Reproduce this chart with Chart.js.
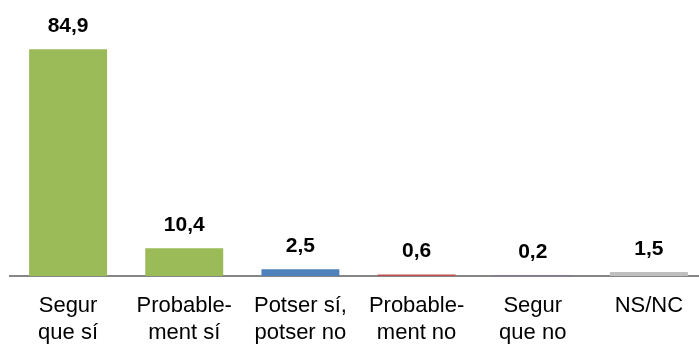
<!DOCTYPE html>
<html>
<head>
<meta charset="utf-8">
<script src="https://cdn.jsdelivr.net/npm/chart.js@4"></script>
<style>
html,body{margin:0;padding:0;background:#fff;overflow:hidden;width:699px;height:345px;}
#wrap{position:absolute;left:0;top:0;width:708px;height:345px;}
</style>
</head>
<body>
<div id="wrap"><canvas id="c" width="708" height="345"></canvas></div>
<script>
const categories = [["Segur","que sí"],["Probable-","ment sí"],["Potser sí,","potser no"],["Probable-","ment no"],["Segur","que no"],["NS/NC"]];
const values = [84.9, 10.4, 2.5, 0.6, 0.2, 1.5];
const valueLabels = ["84,9","10,4","2,5","0,6","0,2","1,5"];
const barColors = ["#9BBB59","#9BBB59","#4F81BD","#C0504D","#8064A2","#BFBFBF"];

const labelPlugin = {
  id: 'valueLabels',
  afterDatasetsDraw(chart) {
    const ctx = chart.ctx;
    const meta = chart.getDatasetMeta(0);
    ctx.save();
    ctx.font = 'bold 21px "Liberation Sans", Arial, sans-serif';
    ctx.fillStyle = '#000';
    ctx.textAlign = 'center';
    ctx.textBaseline = 'alphabetic';
    meta.data.forEach((bar, i) => {
      ctx.fillText(valueLabels[i], bar.x, bar.y - 17);
    });
    ctx.restore();
  }
};

new Chart(document.getElementById('c'), {
  type: 'bar',
  data: {
    labels: categories,
    datasets: [{
      data: values,
      backgroundColor: barColors,
      borderWidth: 0,
      categoryPercentage: 1,
      barPercentage: 0.671
    }]
  },
  options: {
    responsive: false,
    animation: false,
    layout: { padding: { left: 10, right: 1, top: 9, bottom: 0 } },
    plugins: { legend: { display: false }, tooltip: { enabled: false } },
    scales: {
      x: {
        z: 1,
        grid: { display: false, drawTicks: false },
        border: { display: true, color: '#868686', width: 2 },
        ticks: {
          color: '#000',
          padding: 17,
          maxRotation: 0,
          autoSkip: false,
          font: { family: '"Liberation Sans", Arial, sans-serif', size: 22, lineHeight: 1.2 }
        },
        afterFit(scale) { scale.height = 69; }
      },
      y: {
        display: false,
        min: 0,
        max: 100
      }
    }
  },
  plugins: [labelPlugin]
});
</script>
</body>
</html>
